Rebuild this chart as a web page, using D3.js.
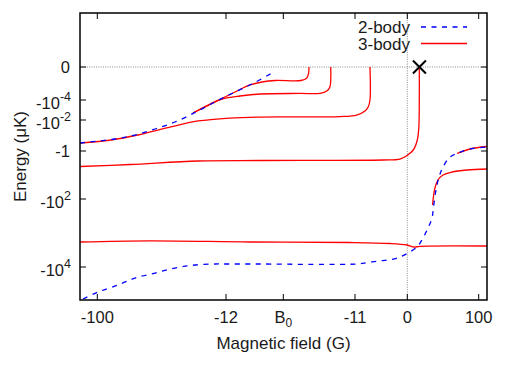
<!DOCTYPE html>
<html>
<head>
<meta charset="utf-8">
<script src="https://cdn.jsdelivr.net/npm/d3@7"></script>
<style>
  body { margin: 0; background: #fff; }
  text { font-family: "Liberation Sans", Arial, sans-serif; fill: #1a1a1a; }
</style>
</head>
<body>
<svg width="505" height="366"></svg>
<script>
// axis ticks
var xTickValues = [-100, -12, -11.556, -11, 0, 100];
var xTickLabels = ['-100', '-12', 'B_0', '-11', '0', '100'];
var yTickValues = [0, -1e-4, -1e-2, -1, -1e2, -1e4];
var yTickLabels = ['0', '-10^-4', '-10^-2', '-1', '-10^2', '-10^4'];

// 2-body (dimer) energies, field B in G, energy in uK
var dimerUpperB = [-111.8, -87.9, -74.2, -60.5, -46.9, -32.5, -20.9, -11.946, -11.798, -11.643];
var dimerUpperE = [-0.368, -0.214, -0.121, -0.048, -0.0145, -2.03e-3, -2.32e-4, -9.2e-6, -1.3e-7, -4e-12];

var dimerLowerB = [-109.8, -99.5, -85.8, -74.2, -60.5, -46.9, -33.2, -19.5, -12, -11.736, -10.58, -8.48, -6.16, -4.06, -1.96, 0.98, 13.6, 22.0, 29.0, 34.6, 36.7, 40.2, 44.4, 50.0, 59.8, 71.0, 87.8, 111.6];
var dimerLowerE = [-49600, -35700, -25400, -17900, -13800, -10600, -8970, -8490, -8490, -8490, -8490, -7900, -7190, -6790, -5960, -4540, -3170, -1805, -928, -454, -195, -48.8, -15.7, -5.94, -2.02, -1.27, -0.786, -0.614];

// 3-body (trimer) energies
var trimerAB = [-34.6, -20.9, -11.946, -11.814, -11.721, -11.62, -11.419, -11.375, -11.36, -11.357];
var trimerAE = [-2.5e-3, -2.3e-4, -9.2e-6, -2.3e-7, -3.8e-8, -1.3e-8, -1.3e-8, -2.2e-9, -6.5e-12, 0];

var trimerCB = [-34.6, -22.9, -14.7, -11.891, -11.736, -11.426, -11.271, -11.219, -11.194, -11.188, -11.188];
var trimerCE = [-2.5e-3, -3.0e-4, -7.4e-5, -2.75e-5, -1.35e-5, -1.1e-5, -1.04e-5, -4.1e-6, -5.8e-7, -1.7e-9, 0];

var trimerBB = [-111.8, -90.6, -72.2, -51.7, -31.1, -11.969, -11.736, -11.116, -10.64, -8.9, -8.2, -7.85, -7.85];
var trimerBE = [-0.368, -0.246, -0.121, -0.0382, -0.012, -6.9e-3, -5.7e-3, -5.2e-3, -3.8e-3, -1.63e-3, -6.0e-4, -1e-4, 0];

var trimerDB = [-111.8, -77.6, -31.1, -11.736, -5.11, -1.54, -0.13, 8.4, 14.0, 16.1, 16.8, 16.8];
var trimerDE = [-5.65, -4.59, -3.16, -2.99, -2.83, -2.54, -1.75, -0.887, -0.245, -0.0406, -1e-4, 0];

var trimerEB = [-111.8, -64.0, -11.814, -11.039, -3.64, -0.06, 9.4, 17.8, 111.6];
var trimerEE = [-2327, -2164, -2327, -2401, -2556, -2805, -3171, -3039, -2984];

var trimerFB = [35.3, 38.7, 42.9, 50.0, 62.6, 83.6, 111.6];
var trimerFE = [-165, -41.3, -20.6, -13.0, -9.76, -8.02, -7.26];

var trimerGB = [69.6, 87.8, 111.6];
var trimerGE = [-1.35, -0.786, -0.577];

var markerB = [17];
var markerE = [0];

var seriesNames = ['2-body', '3-body'];

var svg = d3.select('svg');
var mL = 80, mR = 487, mT = 13, mB = 300;

var x = d3.scaleLinear()
	.domain(xTickValues)
	.range([97.3, 226, 283.3, 355, 407.3, 478.7]);

var y = d3.scalePow().exponent(0.1)
	.domain(yTickValues)
	.range([67, 100, 120, 151, 199, 267]);

svg.append('defs').append('clipPath').attr('id', 'plot')
	.append('rect').attr('x', mL).attr('y', mT)
	.attr('width', mR - mL).attr('height', mB - mT);

// zero lines
var grid = svg.append('g').attr('stroke', '#8a8a8a').attr('stroke-width', 1).attr('stroke-dasharray', '1,1.3');
grid.append('line').attr('x1', mL).attr('x2', mR).attr('y1', y(0)).attr('y2', y(0));
grid.append('line').attr('x1', x(0)).attr('x2', x(0)).attr('y1', mT).attr('y2', mB);

var line = d3.line()
	.x(function(d){ return x(d[0]); })
	.y(function(d){ return y(d[1]); })
	.curve(d3.curveCatmullRom.alpha(0.5));

var plot = svg.append('g').attr('clip-path', 'url(#plot)');

var trimers = [
	d3.zip(trimerAB, trimerAE),
	d3.zip(trimerCB, trimerCE),
	d3.zip(trimerBB, trimerBE),
	d3.zip(trimerDB, trimerDE),
	d3.zip(trimerEB, trimerEE),
	d3.zip(trimerFB, trimerFE),
	d3.zip(trimerGB, trimerGE)
];
var dimers = [
	d3.zip(dimerUpperB, dimerUpperE),
	d3.zip(dimerLowerB, dimerLowerE)
];

plot.selectAll('path.trimer').data(trimers)
	.enter().append('path')
	.attr('class', 'trimer')
	.attr('fill', 'none')
	.attr('stroke', '#ff0000')
	.attr('stroke-width', 1.3)
	.attr('d', line);

plot.selectAll('path.dimer').data(dimers)
	.enter().append('path')
	.attr('class', 'dimer')
	.attr('fill', 'none')
	.attr('stroke', '#0000ff')
	.attr('stroke-width', 1.3)
	.attr('stroke-dasharray', '5,5.5')
	.attr('d', line);

// cross marker
svg.selectAll('path.marker').data(d3.zip(markerB, markerE))
	.enter().append('path')
	.attr('class', 'marker')
	.attr('fill', 'none')
	.attr('stroke', '#000')
	.attr('stroke-width', 2)
	.attr('d', function(d){
		var cx = x(d[0]), cy = y(d[1]), s = 6.5;
		return 'M' + (cx - s) + ',' + (cy - s) + 'L' + (cx + s) + ',' + (cy + s) +
			'M' + (cx - s) + ',' + (cy + s) + 'L' + (cx + s) + ',' + (cy - s);
	});

// frame and ticks
var axes = svg.append('g').attr('stroke', '#000');
xTickValues.forEach(function(v){
	axes.append('line').attr('x1', x(v)).attr('x2', x(v)).attr('y1', mB).attr('y2', mB - 6);
	axes.append('line').attr('x1', x(v)).attr('x2', x(v)).attr('y1', mT).attr('y2', mT + 6);
});
yTickValues.forEach(function(v){
	axes.append('line').attr('x1', mL).attr('x2', mL + 6).attr('y1', y(v)).attr('y2', y(v));
	axes.append('line').attr('x1', mR).attr('x2', mR - 6).attr('y1', y(v)).attr('y2', y(v));
});
axes.append('rect').attr('x', mL).attr('y', mT)
	.attr('width', mR - mL).attr('height', mB - mT)
	.attr('fill', 'none').attr('stroke-width', 1.5);

var fs = 16.5;
xTickLabels.forEach(function(lab, i){
	var parts = lab.split('_');
	var t = svg.append('text')
		.attr('x', x(xTickValues[i])).attr('y', 323)
		.attr('text-anchor', 'middle')
		.style('font-size', fs + 'px');
	t.append('tspan').text(parts[0]);
	if (parts[1]) {
		t.append('tspan').attr('dy', 4).style('font-size', '12px').text(parts[1]);
	}
});

yTickLabels.forEach(function(lab, i){
	var parts = lab.split('^');
	var yy = y(yTickValues[i]) + 6 + (parts[1] ? 3 : 0);
	var t = svg.append('text')
		.attr('x', parts[1] ? 71 : 70).attr('y', yy)
		.attr('text-anchor', 'end')
		.style('font-size', fs + 'px');
	t.append('tspan').text(parts[0]);
	if (parts[1]) {
		t.append('tspan').attr('dy', -8.5).style('font-size', '12.5px').text(parts[1]);
	}
});

svg.append('text')
	.attr('x', (mL + mR) / 2).attr('y', 349)
	.attr('text-anchor', 'middle')
	.style('font-size', '17px')
	.text('Magnetic field (G)');

svg.append('text')
	.attr('transform', 'translate(26,' + ((mT + mB) / 2) + ') rotate(-90)')
	.attr('text-anchor', 'middle')
	.style('font-size', '17px')
	.text('Energy (μK)');

// legend
var legend = svg.append('g');
seriesNames.forEach(function(name, i){
	var ly = 27 + i * 16.5;
	legend.append('text')
		.attr('x', 410).attr('y', ly + 6)
		.attr('text-anchor', 'end')
		.style('font-size', '17px')
		.text(name);
	legend.append('line')
		.attr('x1', 421).attr('x2', 467).attr('y1', ly).attr('y2', ly)
		.attr('stroke', i === 0 ? '#0000ff' : '#ff0000')
		.attr('stroke-width', 1.3)
		.attr('stroke-dasharray', i === 0 ? '5,5.5' : null);
});
</script>
</body>
</html>
